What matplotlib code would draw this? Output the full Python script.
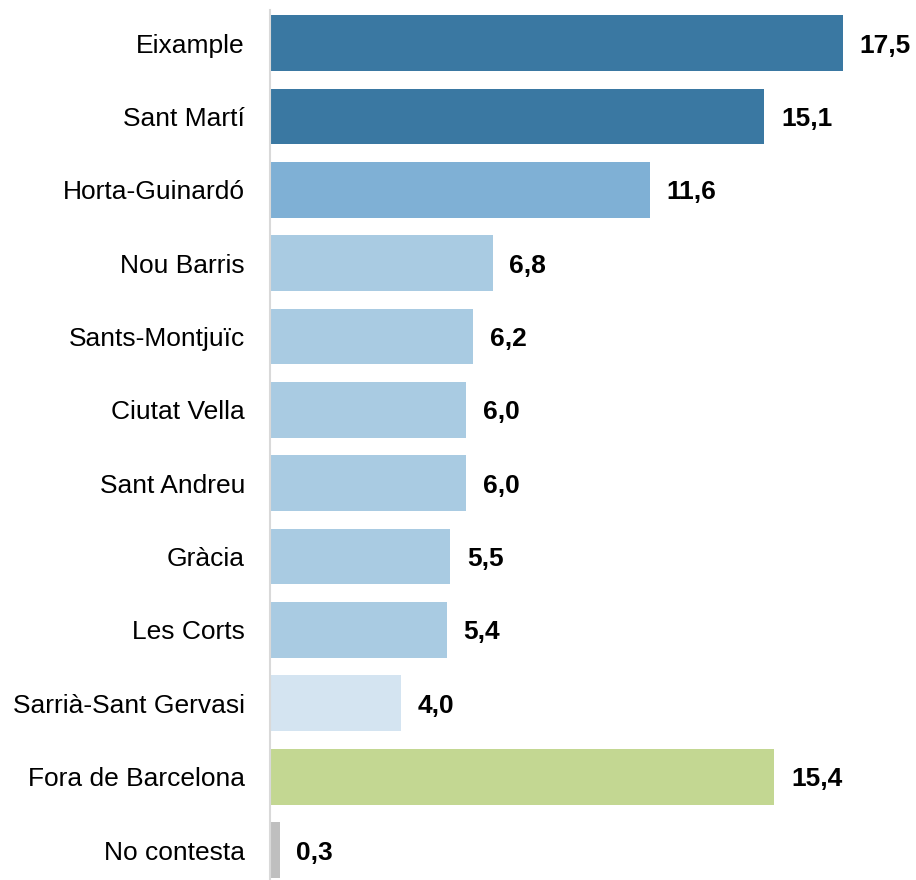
import matplotlib.pyplot as plt

plt.rcParams['font.family'] = ['Liberation Sans', 'DejaVu Sans']

districtes = ["Eixample", "Sant Martí", "Horta-Guinardó", "Nou Barris", "Sants-Montjuïc",
              "Ciutat Vella", "Sant Andreu", "Gràcia", "Les Corts", "Sarrià-Sant Gervasi",
              "Fora de Barcelona", "No contesta"]
valors = [17.5, 15.1, 11.6, 6.8, 6.2, 6.0, 6.0, 5.5, 5.4, 4.0, 15.4, 0.3]
colors = ["#3A78A2", "#3A78A2", "#7FB0D5", "#A9CBE2", "#A9CBE2", "#A9CBE2", "#A9CBE2",
          "#A9CBE2", "#A9CBE2", "#D4E4F1", "#C3D792", "#BFBFBF"]

fig = plt.figure(figsize=(9.16, 8.8), dpi=100)
ax = fig.add_axes([270/916, -0.0076, 646/916, 1.0004])

y = list(range(len(districtes)))
ax.barh(y, valors, height=0.76, color=colors)
ax.set_ylim(len(districtes) - 0.5, -0.5)
ax.set_xlim(0, 19.73)

# etiquetes de valor amb coma decimal
for yi, v in zip(y, valors):
    ax.annotate(f"{v:.1f}".replace(".", ","), (v, yi), xytext=(12, 0),
                textcoords="offset points", va="center_baseline", ha="left",
                fontsize=19, fontweight="bold")

ax.set_yticks(y)
ax.set_yticklabels(districtes, fontsize=19)
ax.tick_params(axis="y", length=0, pad=18)
ax.set_xticks([])
for s in ["top", "right", "bottom"]:
    ax.spines[s].set_visible(False)
ax.spines["left"].set_color("#D9D9D9")
ax.spines["left"].set_linewidth(1.5)
ax.spines["left"].set_bounds(len(districtes) - 0.5, -0.45)

fig.savefig("out.png", dpi=100)
